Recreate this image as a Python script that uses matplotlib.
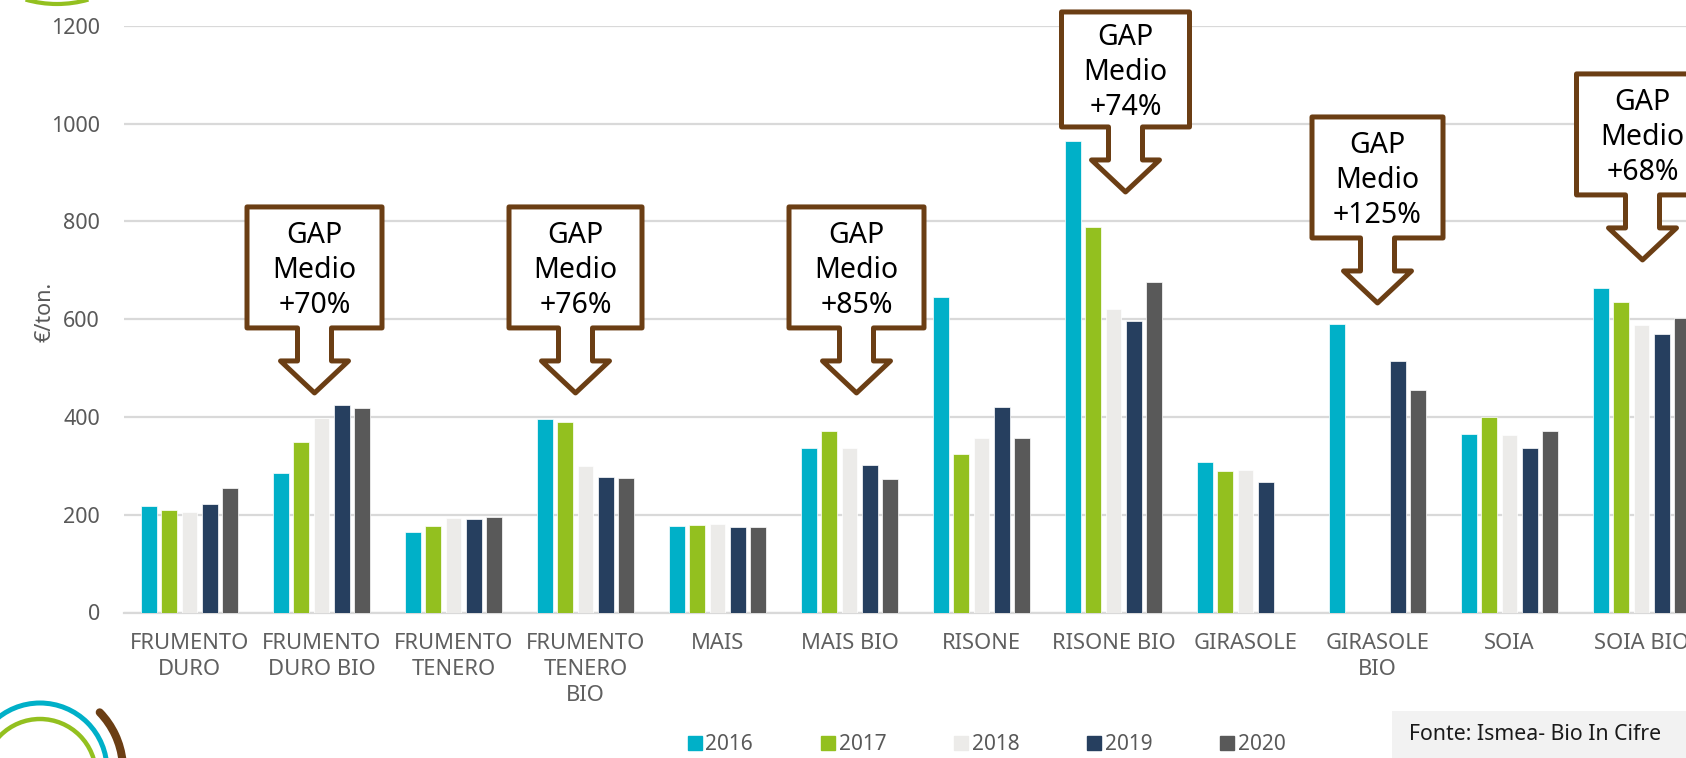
import numpy as np
import matplotlib.pyplot as plt
from matplotlib.patches import Polygon, Arc, Rectangle
from matplotlib.lines import Line2D

plt.rcParams['font.family'] = ['Noto Sans', 'DejaVu Sans']

categories = ["FRUMENTO\nDURO", "FRUMENTO\nDURO BIO", "FRUMENTO\nTENERO", "FRUMENTO\nTENERO\nBIO",
              "MAIS", "MAIS BIO", "RISONE", "RISONE BIO", "GIRASOLE", "GIRASOLE\nBIO",
              "SOIA", "SOIA BIO"]
years = ["2016", "2017", "2018", "2019", "2020"]
nan = np.nan
v2016 = [217, 286, 165, 396, 176, 336, 646, 965, 308, 589, 365, 663]
v2017 = [209, 348, 176, 389, 178, 371, 325, 789, 290, nan, 400, 635]
v2018 = [206, 398, 194, 299, 180, 336, 356, 620, 292, nan, 363, 588]
v2019 = [221, 424, 191, 277, 174, 301, 420, 596, 266, 514, 336, 570]
v2020 = [254, 418, 195, 275, 174, 272, 356, 675, nan, 455, 371, 603]
series = [v2016, v2017, v2018, v2019, v2020]
colors = ["#00B0C8", "#93C01F", "#ECEBE9", "#263F5F", "#595959"]

# callouts: category index, horizontal shift (px), tip value, box width/height (px), label
callouts = [
    (1, -7, 449, 135, 121, "GAP\nMedio\n+70%"),
    (3, -10, 449, 133, 121, "GAP\nMedio\n+76%"),
    (5, 7, 449, 135, 121, "GAP\nMedio\n+85%"),
    (7, 12, 860, 128, 115, "GAP\nMedio\n+74%"),
    (9, 0, 633, 131, 121, "GAP\nMedio\n+125%"),
    (11, 1, 721, 132, 121, "GAP\nMedio\n+68%"),
]

W, H, DPI = 1686, 758, 100
fig = plt.figure(figsize=(W / DPI, H / DPI), dpi=DPI)
ax_l, ax_b, ax_w, ax_h = 123.5 / W, 145.5 / H, 1584 / W, 586.8 / H
ax = fig.add_axes([ax_l, ax_b, ax_w, ax_h])

x = np.arange(len(categories))
step, bw = 0.154, 0.121
for i, (vals, c) in enumerate(zip(series, colors)):
    ax.bar(x + (i - 2) * step, vals, width=bw, color=c, edgecolor="white", linewidth=0.5, zorder=3)

ax.set_xlim(-0.5, 11.5)
ax.set_ylim(0, 1200)
ax.set_yticks(range(0, 1201, 200))
ax.set_xticks(x)
ax.set_xticklabels(categories, fontsize=15.8, color="#606060", linespacing=1.3)
ax.tick_params(axis="y", labelsize=15.5, colors="#595959", length=0, pad=17)
ax.tick_params(axis="x", length=0, pad=15)
ax.grid(axis="y", color="#D9D9D9", linewidth=1.6, zorder=0)
for s in ["top", "right", "left"]:
    ax.spines[s].set_visible(False)
ax.spines["bottom"].set_color("#D9D9D9")
ax.spines["bottom"].set_linewidth(1.6)
ax.set_ylabel("€/ton.", fontsize=15.5, color="#595959")
ax.yaxis.set_label_coords(-0.043, 0.512)

px_x = ax_w * W / 12.0
px_y = ax_h * H / 1200.0
for cat, shift, tip, bwid, bhgt, label in callouts:
    cx = cat + shift / px_x
    hb = tip + 32 / px_y
    bot = hb + 33 / px_y
    top = bot + bhgt / px_y
    half = bwid / 2 / px_x
    sw, hw = 17 / px_x, 34 / px_x
    verts = [(cx - half, top), (cx + half, top), (cx + half, bot), (cx + sw, bot),
             (cx + sw, hb), (cx + hw, hb), (cx, tip), (cx - hw, hb), (cx - sw, hb),
             (cx - sw, bot), (cx - half, bot)]
    ax.add_patch(Polygon(verts, closed=True, facecolor="white", edgecolor="#6B3E14",
                         linewidth=3.6, joinstyle="round", clip_on=False, zorder=5))
    ax.text(cx, (top + bot) / 2 - 3 / px_y, label, ha="center", va="center", fontsize=20.5,
            linespacing=1.28, color="black", zorder=6, clip_on=False)

handles = [Line2D([], [], marker="s", linestyle="none", markersize=9.5, color=c) for c in colors]
fig.legend(handles, years, loc="center", bbox_to_anchor=(986 / W, 1 - 745 / H), ncol=5,
           frameon=False, fontsize=15, labelcolor="#595959", handletextpad=0.1,
           columnspacing=3.2, handlelength=0.8)

# source box
fig.add_artist(Rectangle((1392 / W, 0), 1 - 1392 / W, 47 / H, transform=fig.transFigure,
                         facecolor="#F2F2F2", edgecolor="none"))
fig.text(1409 / W, 1 - 734 / H, "Fonte: Ismea- Bio In Cifre", fontsize=15.3, color="#1A1A1A",
         va="center", ha="left")

# logo fragments
inch = fig.dpi_scale_trans
fig.add_artist(Arc((0.40, -0.12), 1.34, 1.34, theta1=0, theta2=180, color="#00B0C8",
                   linewidth=3.6, transform=inch))
fig.add_artist(Arc((0.40, -0.17), 1.12, 1.12, theta1=0, theta2=180, color="#93C01F",
                   linewidth=3.2, transform=inch))
fig.add_artist(Arc((0.40, -0.12), 1.66, 1.66, theta1=6, theta2=44, color="#6B3E14",
                   linewidth=5.8, transform=inch, capstyle="round"))
fig.add_artist(Arc((0.57, 8.68), 2.28, 2.28, theta1=254, theta2=286, color="#93C01F",
                   linewidth=3.0, transform=inch))

fig.savefig("out.png", dpi=DPI)
